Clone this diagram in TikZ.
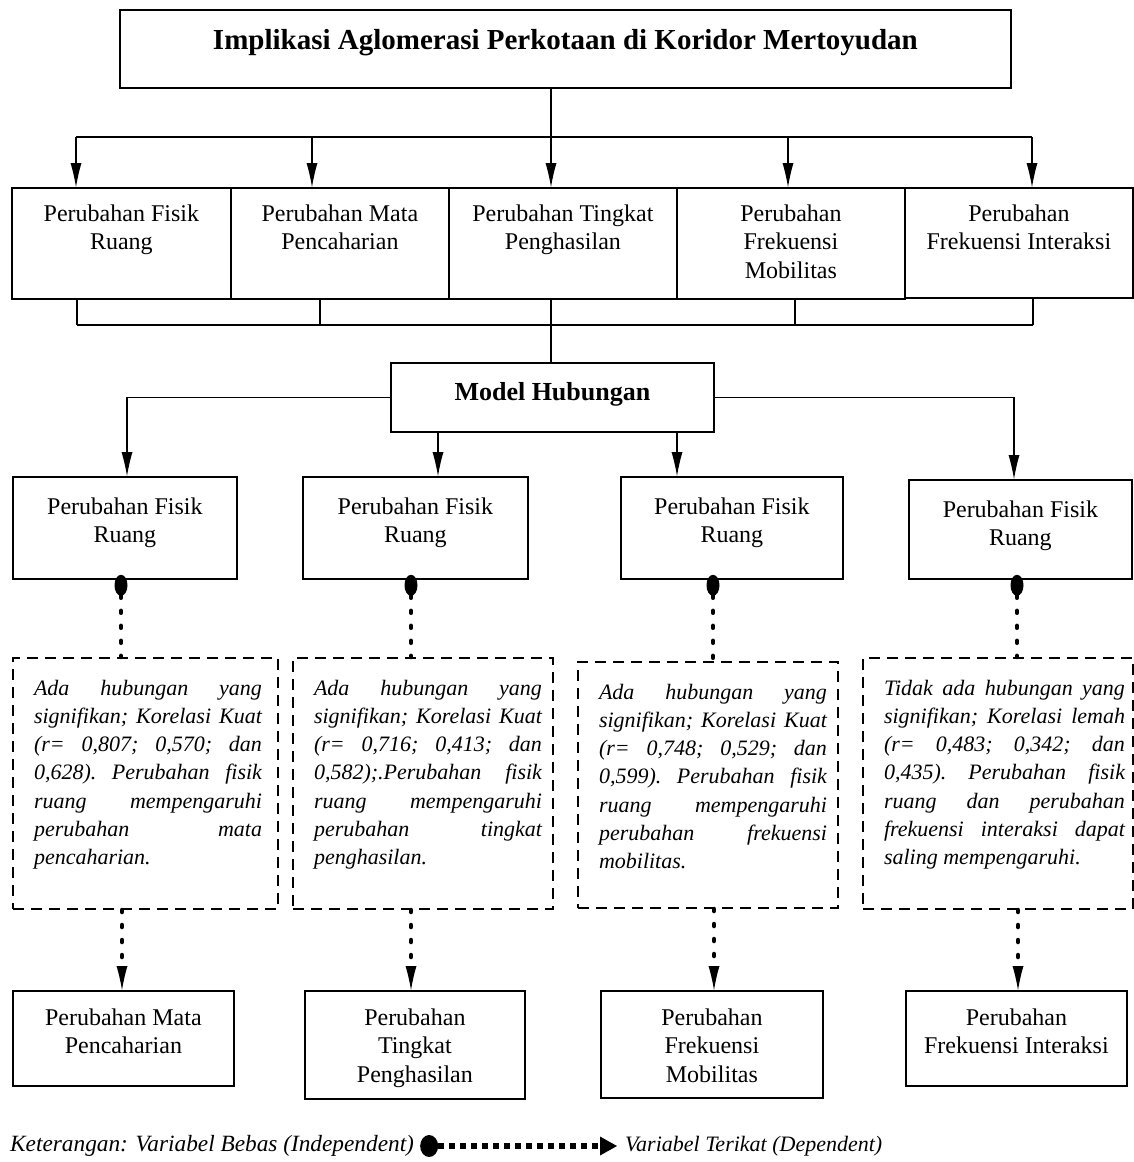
\documentclass[tikz,border=0pt]{standalone}
\usepackage{fontspec}
\setmainfont{Liberation Serif}
\usetikzlibrary{arrows.meta}

\newcommand{\celltext}[4]{\parbox[t][#2][t]{#1}{\centering\vspace*{#3}#4\par}}
\newcommand{\notetext}[4]{\parbox[t][#2][t]{#1}{\itshape\frenchspacing\tolerance=10000\hyphenpenalty=10000\leftskip=21pt\rightskip=#3\vspace*{22pt}\noindent #4\par}}

\tikzset{
  box/.style={draw, line width=1.8pt, inner sep=0pt, anchor=north west, font=\fontsize{24}{28.5}\selectfont},
  notebox/.style={draw, line width=2pt, dash pattern=on 11pt off 7pt, inner sep=0pt, anchor=north west, font=\fontsize{22}{28.2}\selectfont},
  link/.style={line width=1.8pt},
  arr/.style={line width=1.8pt, -{Latex[length=24pt,width=11pt,line width=0pt]}},
  dotlink/.style={line width=4.5pt, line cap=round, dash pattern=on 2pt off 13pt},
}

\begin{document}
\begin{tikzpicture}[x=1pt,y=1pt,yscale=-1,xscale=1]
\useasboundingbox (0,0) rectangle (1134,1162);
%Shape: Rectangle (title)
\node[box, font=\fontsize{29}{34}\selectfont\bfseries] (title) at (119,9) {\celltext{891pt}{78pt}{19pt}{Implikasi Aglomerasi Perkotaan di Koridor Mertoyudan}};
%Shape: Rectangle (first row)
\node[box] (r1a) at (11,187) {\celltext{219pt}{111pt}{16.5pt}{Perubahan Fisik\\Ruang}};
\node[box] (r1b) at (230,187) {\celltext{218pt}{111pt}{16.5pt}{Perubahan Mata\\Pencaharian}};
\node[box] (r1c) at (448,187) {\celltext{228pt}{111pt}{16.5pt}{Perubahan Tingkat\\Penghasilan}};
\node[box] (r1d) at (676,187) {\celltext{228pt}{111pt}{16.5pt}{Perubahan\\Frekuensi\\Mobilitas}};
\node[box] (r1e) at (904,187) {\celltext{228pt}{110pt}{16.5pt}{Perubahan\\Frekuensi Interaksi}};
%Shape: Rectangle (model)
\node[box, font=\fontsize{26}{30}\selectfont\bfseries] (model) at (390,362) {\celltext{323pt}{69pt}{20pt}{Model Hubungan}};
%Shape: Rectangle (second row)
\node[box] (r2a) at (12,476) {\celltext{224pt}{102pt}{20.5pt}{Perubahan Fisik\\Ruang}};
\node[box] (r2b) at (302,476) {\celltext{225pt}{102pt}{20.5pt}{Perubahan Fisik\\Ruang}};
\node[box] (r2c) at (620,476) {\celltext{222pt}{102pt}{20.5pt}{Perubahan Fisik\\Ruang}};
\node[box] (r2d) at (908,479) {\celltext{223pt}{99pt}{20.5pt}{Perubahan Fisik\\Ruang}};
%Shape: Dashed Rectangle (notes)
\node[notebox] (d1) at (12,657) {\notetext{265pt}{251pt}{16pt}{Ada hubungan yang\linebreak signifikan; Korelasi Kuat\linebreak (r= 0,807; 0,570; dan\linebreak 0,628). Perubahan fisik\linebreak ruang mempengaruhi\linebreak perubahan mata\linebreak pencaharian.}};
\node[notebox] (d2) at (292,657) {\notetext{260pt}{251pt}{11pt}{Ada hubungan yang\linebreak signifikan; Korelasi Kuat\linebreak (r= 0,716; 0,413; dan\linebreak 0,582);.Perubahan fisik\linebreak ruang mempengaruhi\linebreak perubahan tingkat\linebreak penghasilan.}};
\node[notebox] (d3) at (577,661) {\notetext{260pt}{246pt}{11pt}{Ada hubungan yang\linebreak signifikan; Korelasi Kuat\linebreak (r= 0,748; 0,529; dan\linebreak 0,599). Perubahan fisik\linebreak ruang mempengaruhi\linebreak perubahan frekuensi\linebreak mobilitas.}};
\node[notebox] (d4) at (862,657) {\notetext{270pt}{251pt}{8pt}{Tidak ada hubungan yang\linebreak signifikan; Korelasi lemah\linebreak (r= 0,483; 0,342; dan\linebreak 0,435). Perubahan fisik\linebreak ruang dan perubahan\linebreak frekuensi interaksi dapat\linebreak saling mempengaruhi.}};
%Shape: Rectangle (last row)
\node[box] (b1) at (12,990) {\celltext{221pt}{95pt}{17.5pt}{Perubahan Mata\\Pencaharian}};
\node[box] (b2) at (304,990) {\celltext{220pt}{108pt}{17.5pt}{Perubahan\\Tingkat\\Penghasilan}};
\node[box] (b3) at (600,990) {\celltext{222pt}{107pt}{17.5pt}{Perubahan\\Frekuensi\\Mobilitas}};
\node[box] (b4) at (905,990) {\celltext{221pt}{95pt}{17.5pt}{Perubahan\\Frekuensi Interaksi}};

%Straight Lines (title to first row)
\coordinate (hub) at (551,137);
\draw[link] (hub |- title.south) -- (hub);
\draw[line width=2.6pt] (76,137) -- (1032,137);
\foreach \x/\n in {76/r1a, 312/r1b, 551/r1c, 788/r1d, 1032/r1e}
  \draw[arr] (\x,137) -- (\x,0 |- \n.north);
%Straight Lines (first row to model)
\foreach \x/\n in {77/r1a, 320/r1b, 551/r1c, 795/r1d, 1033/r1e}
  \draw[link] (\x,0 |- \n.south) -- (\x,325);
\draw[link] (77,325) -- (1033,325);
\draw[link] (551,325) -- (551,0 |- model.north);
%Straight Lines (model to second row)
\draw[arr] (model.west) -| (127,0 |- r2a.north);
\draw[arr] (model.east) -| (1014,0 |- r2d.north);
\draw[arr] (438,0 |- model.south) -- (438,0 |- r2b.north);
\draw[arr] (677,0 |- model.south) -- (677,0 |- r2c.north);
%Dotted Lines (variables)
\foreach \x/\a/\d in {121/r2a/d1, 411/r2b/d2, 713/r2c/d3, 1017/r2d/d4}
  \draw[dotlink, shorten <=-5pt, {Ellipse[length=21pt,width=13pt,line width=0pt]}-] (\x,0 |- \a.south) -- (\x,0 |- \d.north);
\foreach \x/\d/\b in {122/d1/b1, 411/d2/b2, 714/d3/b3, 1018/d4/b4}
  \draw[dotlink, -{Latex[length=24pt,width=11pt,line width=0pt]}] (\x,0 |- \d.south) -- (\x,0 |- \b.north);

% Text Node (legend)
\node[anchor=west, inner sep=0pt, font=\fontsize{23.3}{26}\selectfont\itshape] (free) at (10,1146) {Keterangan: Variabel Bebas (Independent)};
\node[anchor=west, inner sep=0pt, font=\fontsize{22}{26}\selectfont\itshape] (bound) at (625,1146) {Variabel Terikat (Dependent)};
\draw[line width=6pt, dash pattern=on 6pt off 5pt, {Ellipse[length=18pt,width=22pt,line width=0pt]}-{Triangle[length=17pt,width=19pt,line width=0pt]}] ([xshift=6pt]free.east) -- ([xshift=-8pt]bound.west);
\end{tikzpicture}
\end{document}
